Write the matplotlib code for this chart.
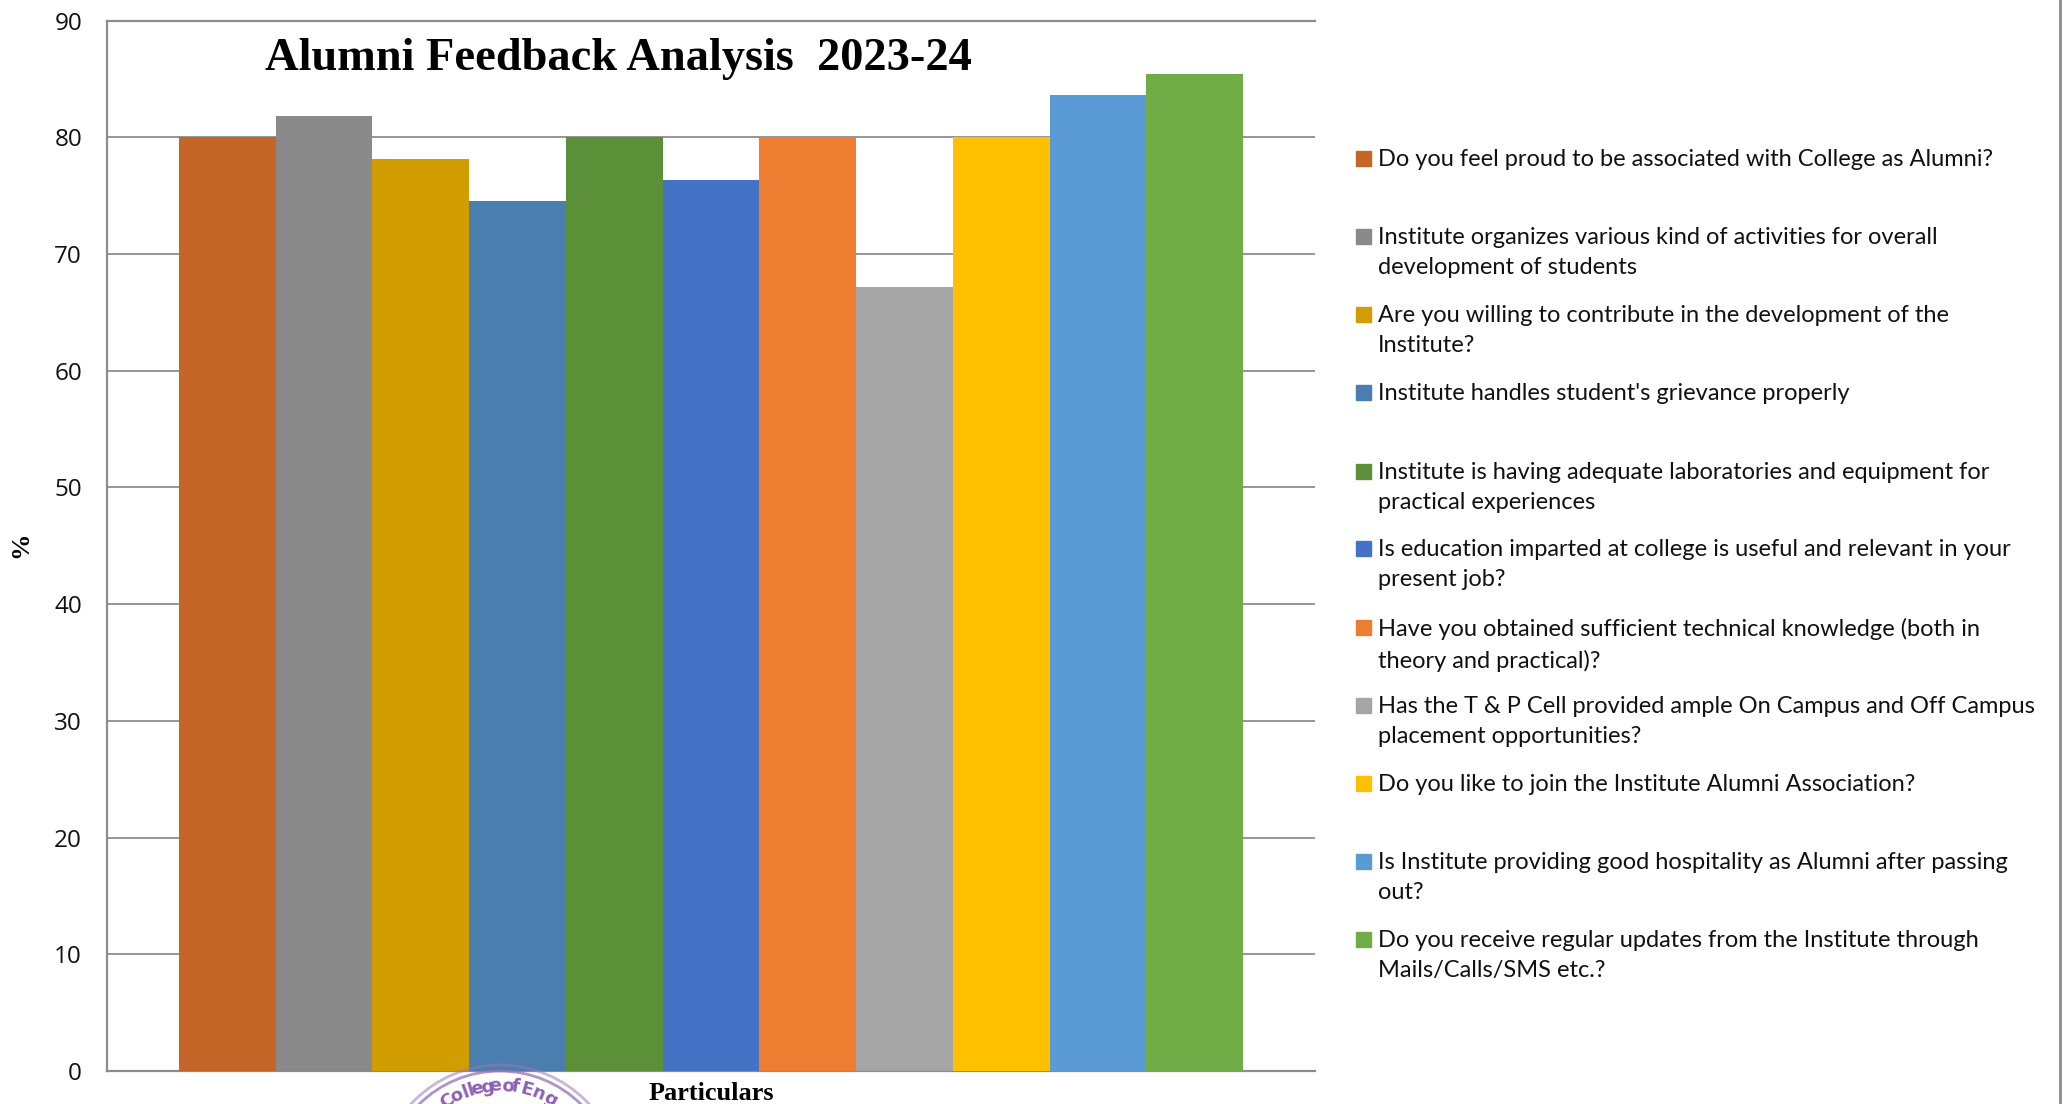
import numpy as np
import matplotlib
matplotlib.use('Agg')
import matplotlib.pyplot as plt
from matplotlib.patches import Rectangle, Arc

W, H = 2065, 1104

#data
questions = ['Do you feel proud to be associated with College as Alumni?',
             'Institute organizes various kind of activities for overall\ndevelopment of students',
             'Are you willing to contribute in the development of the\nInstitute?',
             "Institute handles student's grievance properly",
             'Institute is having adequate laboratories and equipment for\npractical experiences',
             'Is education imparted at college is useful and relevant in your\npresent job?',
             'Have you obtained sufficient technical knowledge (both in\ntheory and practical)?',
             'Has the T & P Cell provided ample On Campus and Off Campus\nplacement opportunities?',
             'Do you like to join the Institute Alumni Association?',
             'Is Institute providing good hospitality as Alumni after passing\nout?',
             'Do you receive regular updates from the Institute through\nMails/Calls/SMS etc.?']
values = [80.0, 81.8, 78.1, 74.5, 80.0, 76.3, 80.0, 67.2, 80.0, 83.6, 85.4]
colors = ['#C46628', '#8A8A8A', '#D29D00', '#4A7EAF', '#5B9039', '#4472C4',
          '#ED7D31', '#A5A5A5', '#FFC000', '#5B9BD5', '#70AD47']
yticks = np.arange(0, 100, 10)
# legend row tops (pixels)
legend_y = [157, 235, 313, 391, 470, 547, 626, 704, 782, 860, 938]
# stamp letters and where they sit across the page (pixels)
stamp_chars = list('CollegeofEng')
stamp_x = [447, 457, 466, 471, 477, 487, 495, 508, 515, 527, 538, 550]

fig = plt.figure(figsize=(W/100, H/100), dpi=100)
ax = fig.add_axes([107/W, 1-1071/H, (1315-107)/W, (1071-20.5)/H])

x = np.arange(len(values))
ax.bar(x, values, width=1.0, color=colors, zorder=3)
ax.set_xlim(-0.5-72/96.8, 10.5+72/96.8)
ax.set_ylim(0, 90)
ax.set_xticks([])
ax.set_yticks(yticks)
ax.yaxis.grid(True, color='#8C8C8C', lw=1.3, zorder=1)
ax.tick_params(axis='y', length=0, pad=18, labelsize=17.5, labelcolor='#111111')
for label in ax.get_yticklabels():
    label.set_fontfamily('Open Sans')
for s in ['top', 'bottom', 'left']:
    ax.spines[s].set_color('#8C8C8C')
    ax.spines[s].set_linewidth(1.6)
ax.spines['right'].set_visible(False)

fig.text(618/W, 1-59/H, 'Alumni Feedback Analysis  2023-24', family='Liberation Serif',
         weight='bold', fontsize=33.4, ha='center', va='center', color='black')
fig.text(711/W, 1-1094/H, 'Particulars', family='Liberation Serif', weight='bold',
         fontsize=18.9, ha='center', va='center', color='black')
fig.text(21/W, 1-545/H, '%', family='Liberation Serif', weight='bold', fontsize=19,
         rotation=90, ha='center', va='center', color='black')

# legend placed by hand, the rows are not evenly filled
for q, c, ly in zip(questions, colors, legend_y):
    fig.add_artist(Rectangle((1356/W, 1-(ly+9)/H), 15/W, 15/H, color=c,
                             transform=fig.transFigure))
    fig.text(1378/W, 1-(ly-8)/H, q, family='Lato', fontsize=17.0, va='top', ha='left',
             color='#111111', linespacing=1.53)

# page edge on the right
fig.add_artist(plt.Line2D([2060/W, 2060/W], [0, 1], color='#8C8C8C', lw=2))

# stamp cut by the bottom of the page
cx, cy = 500, 1186
for d, a in [(242, 0.55), (230, 0.8)]:
    fig.add_artist(Arc((cx/W, 1-cy/H), d/W, d/H, theta1=0, theta2=180, color='#9C78B8',
                       lw=2, alpha=a, transform=fig.transFigure))
for ch, sx in zip(stamp_chars, stamp_x):
    ang = np.degrees(np.arcsin((sx-cx)/100))
    ty = cy - 100*np.cos(np.radians(ang))
    fig.text(sx/W, 1-ty/H, ch, color='#8E5FB5', fontsize=13, weight='bold',
             rotation=-ang, ha='center', va='center', rotation_mode='anchor')

fig.savefig('out.png', dpi=100)
